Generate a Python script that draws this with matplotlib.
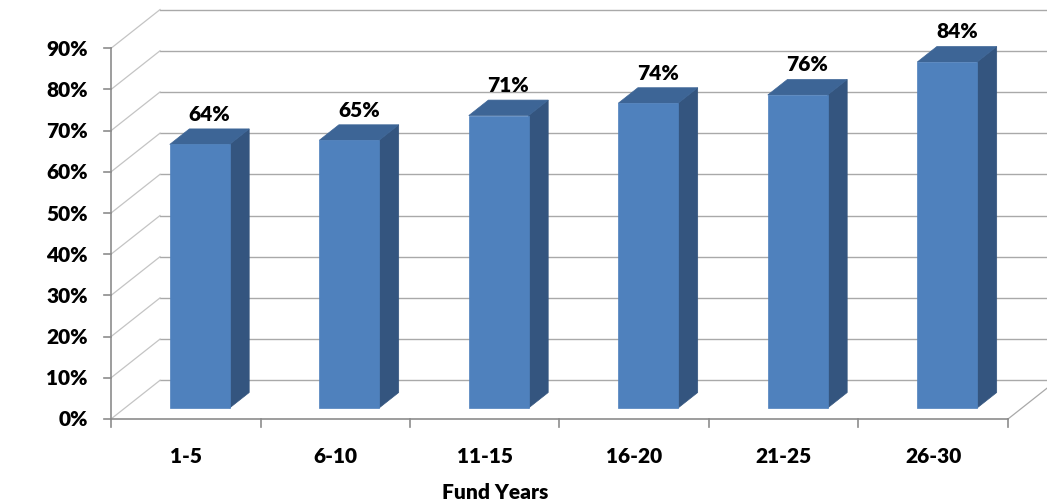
import matplotlib
matplotlib.use("Agg")
import matplotlib.pyplot as plt
from matplotlib.patches import Polygon

# ---- data ----
categories = ["1-5", "6-10", "11-15", "16-20", "21-25", "26-30"]
values = [64, 65, 71, 74, 76, 84]
y_ticks = [0, 10, 20, 30, 40, 50, 60, 70, 80, 90]
x_title = "Fund Years"

# ---- style ----
FONT = ["Lato", "DejaVu Sans"]
FS = 15
WEIGHT = "heavy"
FRONT = "#4f81bd"
SIDE = "#34557f"
TOP = "#3d6596"
GRID = "#a9a9a9"

fig = plt.figure(figsize=(10.47, 5.02), dpi=100)
ax = fig.add_axes([0, 0, 1, 1])
ax.set_xlim(-0.7425, 6.2609)
ax.set_ylim(-19.91, 101.97)
ax.axis("off")

# oblique projection of the depth axis (d in [0, 1]) into data units
DX = 0.328   # category units per full depth
DY = 9.40    # percent units per full depth
n = len(categories)
ymax = y_ticks[-1]


def proj(x, v, d):
    return (x + d * DX, v + d * DY)


# back wall gridlines and left wall diagonals
for t in y_ticks:
    x0, y0 = proj(0, t, 1)
    x1, y1 = proj(n + 0.5, t, 1)
    ax.plot([x0, x1], [y0, y1], color=GRID, lw=1.0, zorder=1)
    ax.plot([0, x0], [t, y0], color="#c4c4c4", lw=0.9, zorder=1)
    # value axis tick and label
    ax.plot([-0.047, 0], [t, t], color="#8c8c8c", lw=1.2, zorder=3)
    ax.text(-0.154, t, f"{t}%", ha="right", va="center", fontsize=FS,
            fontweight=WEIGHT, family=FONT, zorder=5)

# floor edges
xr, yr = proj(n, 0, 1)
ax.plot([n, xr], [0, yr], color=GRID, lw=0.9, zorder=1)

# value axis line
ax.plot([0, 0], [0, ymax], color="#8c8c8c", lw=1.2, zorder=3)

# category axis line and ticks
ax.plot([0, n], [0, 0], color="#8c8c8c", lw=1.2, zorder=3)
for k in range(n + 1):
    ax.plot([k, k], [0, -1.9], color="#8c8c8c", lw=1.2, zorder=3)

# bars
w = 0.40
d0, d1 = 0.284, 0.684
for i, (cat, val) in enumerate(zip(categories, values)):
    c = i + 0.5
    xl, xr_ = c - w / 2, c + w / 2
    front = [proj(xl, 0, d0), proj(xr_, 0, d0), proj(xr_, val, d0), proj(xl, val, d0)]
    side = [proj(xr_, 0, d0), proj(xr_, 0, d1), proj(xr_, val, d1), proj(xr_, val, d0)]
    top = [proj(xl, val, d0), proj(xr_, val, d0), proj(xr_, val, d1), proj(xl, val, d1)]
    ax.add_patch(Polygon(side, closed=True, facecolor=SIDE, edgecolor=SIDE, lw=0.5, zorder=4))
    ax.add_patch(Polygon(top, closed=True, facecolor=TOP, edgecolor=TOP, lw=0.5, zorder=4))
    ax.add_patch(Polygon(front, closed=True, facecolor=FRONT, edgecolor=FRONT, lw=0.5, zorder=4))

    lx, ly = proj(c, val, (d0 + d1) / 2)
    ax.text(lx, val + d1 * DY + 3.8, f"{val}%", ha="center", va="center",
            fontsize=FS, fontweight=WEIGHT, family=FONT, zorder=6)

    ax.text(c, -8.98, cat, ha="center", va="center", fontsize=FS,
            fontweight=WEIGHT, family=FONT, zorder=5)

ax.text(2.569, -17.5, x_title, ha="center", va="center", fontsize=FS,
        fontweight=WEIGHT, family=FONT, zorder=5)

fig.savefig("out.png", dpi=100)
